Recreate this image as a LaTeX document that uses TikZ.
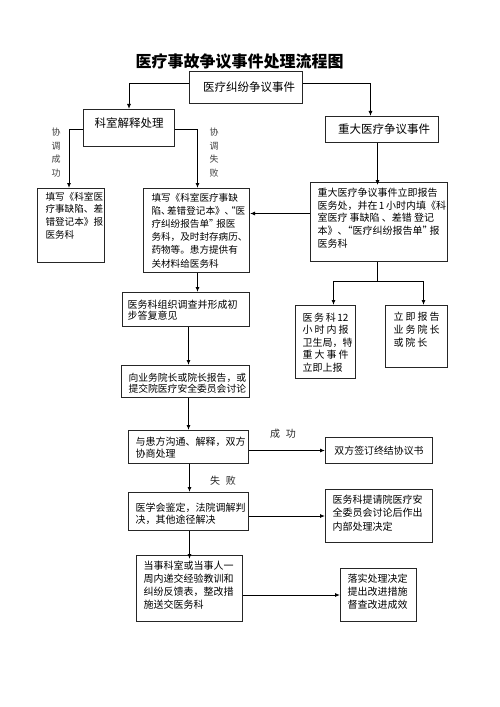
\documentclass[tikz,border=0pt]{standalone}
\usepackage{fontspec}
\setmainfont{Noto Sans CJK SC}
\usetikzlibrary{arrows.meta,calc}
\newcommand\bxt[3]{\parbox[c][#2bp][t]{#1bp}{#3}}
\newcommand\oq{\makebox[5bp][r]{“}}
\newcommand\cq{\makebox[5bp][l]{”}}
\newcommand\dn{\makebox[6bp][l]{、}}
\tikzset{
  box/.style={draw=black!85, line width=1bp, anchor=north west, text=black},
  sbox/.style={box, inner sep=0pt, align=center, font=\fontsize{11.5bp}{13bp}\selectfont},
  ft/.style={font=\fontsize{#1bp}{13bp}\selectfont},
  arr/.style={-{Latex[length=5bp,width=4bp]}, line width=0.9bp, draw=black},
  ln/.style={line width=0.9bp, draw=black},
  vlab/.style={align=center, text=black!75, inner sep=0pt, font=\fontsize{9bp}{13.5bp}\selectfont},
  hlab/.style={text=black!85, inner sep=0pt, font=\fontsize{10bp}{12bp}\selectfont}
}
\begin{document}
\begin{tikzpicture}[x=1bp,y=-1bp]
\useasboundingbox[fill=white] (0,0) rectangle (500,707);
% title
\node[font=\fontsize{16bp}{18bp}\selectfont\bfseries, inner sep=0pt] (title) at (239.5,61) {医疗事故争议事件处理流程图};
% single-line boxes
\node[sbox, minimum width=113bp, minimum height=32bp] (top) at (189,71) {\hspace*{6bp}医疗纠纷争议事件};
\node[sbox, minimum width=91bp, minimum height=37bp] (kes) at (83,109) {科室解释处理\\[-3bp]\mbox{}};
\node[sbox, minimum width=113bp, minimum height=26bp] (zd) at (325,116) {\hspace*{4bp}重大医疗争议事件};
\node[sbox, font=\fontsize{9.9bp}{12bp}\selectfont, minimum width=107bp, minimum height=26bp] (t1) at (325,437) {双方签订终结协议书};
% multi-line boxes
\node[box, inner xsep=8bp, inner ysep=3.5bp, ft=9.6] (left) at (37,188) {\bxt{51}{67}{\baselineskip=12.8bp 填写《科室医\\疗事缺陷、差\\错登记本》报\\医务科}};
\node[box, inner xsep=8bp, inner ysep=4.5bp, ft=9.6] (mid) at (143,188) {\bxt{90}{75}{\baselineskip=13.2bp 填写《科室医疗事缺\\陷\dn 差错登记本》\dn\oq 医\\疗纠纷报告单\cq~报医\\务科，及时封存病历、\\药物等。患方提供有\\关材料给医务科}};
\node[box, inner xsep=7bp, inner ysep=5.5bp, ft=10] (rb) at (310,182) {\bxt{123}{68}{\baselineskip=12.7bp 重大医疗争议事件立即报告\\医务处，并在~1~小时内填《科\\室医疗~事缺陷~、差错~登记\\本》、\oq 医疗纠纷报告单\cq~报\\医务科}};
\node[box, inner xsep=7bp, inner ysep=7.5bp, ft=10] (r1) at (295,305) {\bxt{46}{58}{\baselineskip=12.5bp 医\hfill 务\hfill 科\hfill 12\\小\hfill 时\hfill 内\hfill 报\\卫生局，特\\重\hfill 大\hfill 事\hfill 件\\立即上报}};
\node[box, inner xsep=8bp, inner ysep=6.5bp, ft=10] (r2) at (385,305) {\bxt{46}{49}{\baselineskip=13bp 立\hfill 即\hfill 报\hfill 告\\业\hfill 务\hfill 院\hfill 长\\或\hspace{2bp}院\hspace{2bp}长}};
\node[box, inner xsep=5bp, inner ysep=7.5bp, ft=10] (inv) at (122,292) {\bxt{117}{19}{\baselineskip=11.5bp 医务科组织调查并形成初\\步答复意见}};
\node[box, inner xsep=7bp, inner ysep=7.5bp, ft=9.8] (rep) at (121,365) {\bxt{114}{17}{\baselineskip=11.5bp 向业务院长或院长报告，或\\提交院医疗安全委员会讨论}};
\node[box, inner xsep=7bp, inner ysep=6.5bp, ft=10] (h1) at (128,430) {\bxt{106}{20}{\baselineskip=12bp 与患方沟通、解释，双方\\协商处理}};
\node[box, inner xsep=7bp, inner ysep=10.5bp, ft=10] (m) at (128,492) {\bxt{106}{17}{\baselineskip=12bp 医学会鉴定，法院调解判\\决，其他途径解决}};
\node[box, inner xsep=7bp, inner ysep=5.5bp, ft=10] (t2) at (325,489) {\bxt{93}{42}{\baselineskip=13.5bp 医务科提请院医疗安\\全委员会讨论后作出\\内部处理决定}};
\node[box, inner xsep=7bp, inner ysep=5.5bp, ft=10] (d) at (136,555) {\bxt{92}{55}{\baselineskip=13bp 当事科室或当事人一\\周内递交经验教训和\\纠纷反馈表，整改措\\施送交医务科}};
\node[box, inner xsep=7bp, inner ysep=5.5bp, ft=10] (l) at (340,568) {\bxt{62}{42}{\baselineskip=13bp 落实处理决定\\提出改进措施\\督查改进成效}};
% labels
\node[vlab] (lab1) at (56,152.5) {协\\调\\成\\功};
\node[vlab] (lab2) at (214,152.5) {协\\调\\失\\败};
\node[hlab] (lab3) at (283,434) {成\hspace{6bp}功};
\node[hlab] (lab4) at (223,481) {失\hspace{6bp}败};
% connectors
\draw[arr] ([yshift=4bp]top.west) -| (kes.north);
\draw[arr] ([yshift=4bp]top.east) -| ([xshift=-11.5bp]zd.north);
\draw[arr] ([yshift=-1.5bp]kes.west) -| ([xshift=-2bp]left.north);
\draw[arr] ([yshift=-1.5bp]kes.east) -| ([xshift=1bp]mid.north);
\draw[arr, shorten >=-3bp] ([xshift=-4.5bp]zd.south) -- ([xshift=-4.5bp]zd.south |- rb.north);
\draw[ln] ([xshift=-1.5bp]rb.south) -- ++(0,19) coordinate (sp);
\draw[arr] (sp) -| ([xshift=8bp]r1.north);
\draw[arr] (sp) -| ([xshift=7bp]r2.north);
\draw[arr] ([yshift=8.5bp]rb.west) -- ([yshift=8.5bp]rb.west -| mid.east);
\draw[arr] ([xshift=1bp]mid.south) -- ([xshift=1bp]mid.south |- inv.north);
\draw[arr] ([xshift=2.5bp]inv.south) -- ([xshift=2.5bp]inv.south |- rep.north);
\draw[arr] ([xshift=3bp]rep.south) -- ([xshift=3bp]rep.south |- h1.north);
\draw[arr] ([xshift=1bp]h1.south) -- ([xshift=1bp]h1.south |- m.north);
\draw[arr, shorten >=-4bp] ([xshift=1bp]m.south) -- ([xshift=1bp]m.south |- d.north);
\draw[arr] (h1.east |- t1.west) -- (t1.west);
\draw[arr] (m.east |- t2.west) -- (t2.west);
\draw[arr] (d.east |- l.west) -- (l.west);
\end{tikzpicture}
\end{document}
